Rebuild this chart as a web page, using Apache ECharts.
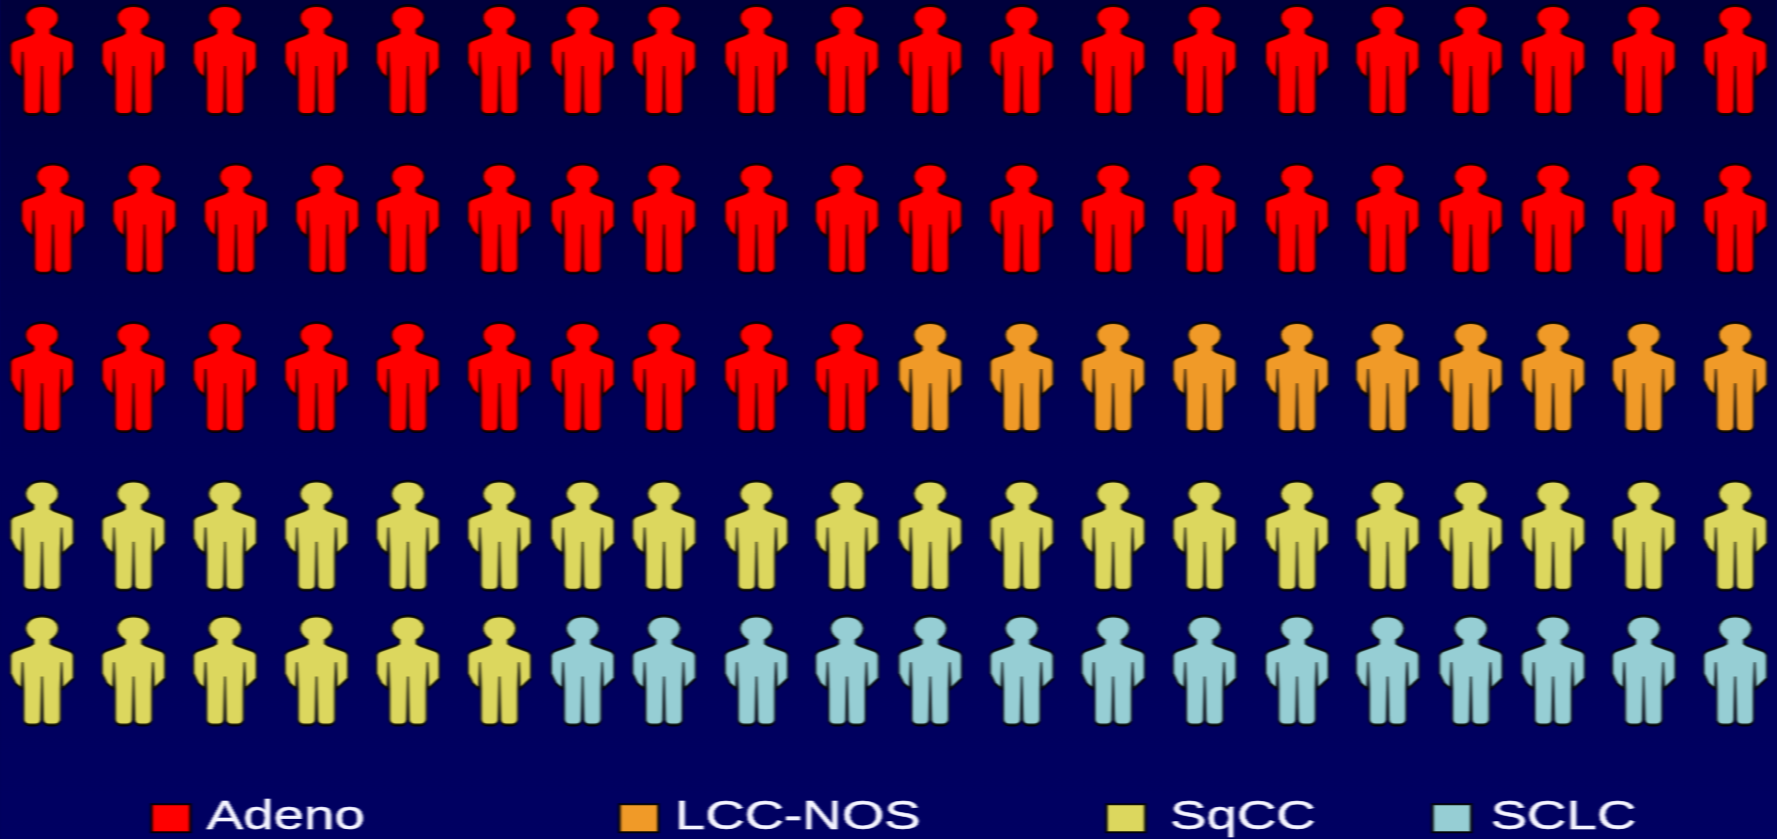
<!DOCTYPE html>
<html>
<head>
<meta charset="utf-8">
<style>
html,body{margin:0;padding:0;width:1777px;height:839px;overflow:hidden;background:#00005c}
#main{position:absolute;left:0;top:0;height:839px;transform-origin:0 0;filter:blur(0.7px)}
</style>
<script src="https://cdn.jsdelivr.net/npm/echarts@6/dist/echarts.min.js"></script>
</head>
<body>
<div id="main"></div>
<script>
// Histology share of 100 patients, one figure per patient
const categories = ['Adeno', 'LCC-NOS', 'SqCC', 'SCLC'];
const patientCounts = [50, 10, 26, 14];
const categoryColors = ['#ff0000', '#f09a28', '#dcd75e', '#96ced4'];
// Grid positions of the figures, in grid units
const columnPositions = [0, 1, 2, 3, 4, 5, 5.91, 6.8, 7.81, 8.8, 9.71, 10.71, 11.71, 12.71, 13.72, 14.71, 15.62, 16.52, 17.51, 18.51];
const rowPositions = [0, 1, 2, 3, 3.85];
// The first four figures of row 2 sit slightly to the right
const rowTwoShift = [0.12, 0.12, 0.12, 0.12];
const legendLeft = [150, 618, 1105, 1431];
const legendTextGap = [7, 7, 13, 9];

const STRETCH = 1.366; // the picture is widened horizontally, text included
const W = 1777, H = 839;
const PERSON = 'path://M31.5 0C41 0 48 5 48 12C48 18 44 22 40 24L40 27L43 29L58 34C61 35 63 37 63 40L63 62L52 72L51 46L50 72L50 102C50 106 47 108 44 108L38 108C35 108 33 106 32.5 103L31.5 60L30.5 103C30 106 28 108 25 108L19 108C16 108 13 106 13 102L13 72L12 46L11 72L5 67L0 57L0 40C0 37 2 35 5 34L20 29L23 27L23 24C19 22 15 18 15 12C15 5 22 0 31.5 0Z';

const el = document.getElementById('main');
el.style.width = (W / STRETCH) + 'px';
el.style.transform = 'scaleX(' + STRETCH + ')';
const chart = echarts.init(el, null, {renderer: 'canvas'});

// fill the grid left to right, top to bottom
const cols = columnPositions.length;
let cursor = 0;
const series = categories.map((name, i) => {
  const data = [];
  for (let k = 0; k < patientCounts[i]; k++, cursor++) {
    const r = Math.floor(cursor / cols), c = cursor % cols;
    const shift = r === 1 && c < rowTwoShift.length ? rowTwoShift[c] : 0;
    data.push([columnPositions[c] + shift, rowPositions[r]]);
  }
  return {
    name, type: 'scatter', data, silent: true, clip: false,
    symbol: PERSON, symbolSize: [63 / STRETCH, 109],
    itemStyle: {color: categoryColors[i], opacity: 1, borderColor: 'rgba(0,0,0,0.85)', borderWidth: 1.8},
    emphasis: {disabled: true}
  };
});

chart.setOption({
  animation: false,
  backgroundColor: new echarts.graphic.LinearGradient(0, 0, 0, 1, [
    {offset: 0, color: '#00003c'},
    {offset: 0.5, color: '#000058'},
    {offset: 1, color: '#000062'}
  ]),
  grid: {left: 42 / STRETCH, right: (W - 1735) / STRETCH, top: 60, bottom: H - 670.5},
  xAxis: {type: 'value', min: 0, max: 18.51, show: false},
  yAxis: {type: 'value', min: 0, max: 3.85, inverse: true, show: false},
  legend: categories.map((name, i) => ({
    data: [{name, icon: 'rect'}],
    left: legendLeft[i] / STRETCH, top: 798, padding: 0,
    itemWidth: 39 / STRETCH, itemHeight: 28, itemGap: 11,
    selectedMode: false,
    itemStyle: {borderColor: 'rgba(0,0,0,0.9)', borderWidth: 2},
    textStyle: {color: '#f4f4ff', textBorderColor: '#f4f4ff', textBorderWidth: 0.5, fontFamily: 'Liberation Sans', fontSize: 40, padding: [10, 0, 0, legendTextGap[i]]}
  })),
  series
});
</script>
</body>
</html>
